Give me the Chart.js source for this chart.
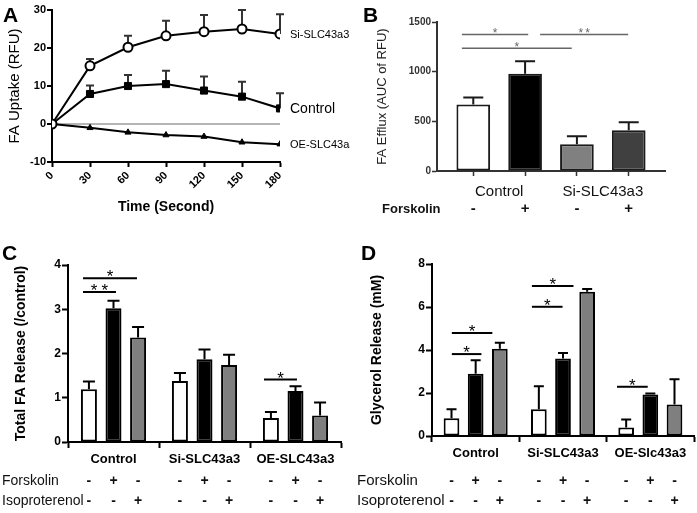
<!DOCTYPE html>
<html><head><meta charset="utf-8">
<script src="https://cdn.jsdelivr.net/npm/chart.js@4.4.1/dist/chart.umd.min.js"></script>
<style>
html,body{margin:0;padding:0;background:#fff}
body{position:relative;width:697px;height:513px;overflow:hidden}
canvas{position:absolute}
.lt{position:absolute;font:bold 21px/21px "Liberation Sans",Arial,sans-serif;color:#000}
</style></head><body>
<canvas id="cA" width="350" height="230" style="left:0px;top:0px"></canvas>
<canvas id="cB" width="347" height="230" style="left:350px;top:0px"></canvas>
<canvas id="cC" width="350" height="273" style="left:0px;top:240px"></canvas>
<canvas id="cD" width="347" height="273" style="left:350px;top:240px"></canvas>
<div class="lt" style="left:3px;top:4px">A</div>
<div class="lt" style="left:363px;top:4px">B</div>
<div class="lt" style="left:2px;top:242px">C</div>
<div class="lt" style="left:361px;top:242px">D</div>
<script>
// ---------- Panel A: FA uptake time course ----------
const timePoints = [0, 30, 60, 90, 120, 150, 180];
const siUptake = [0, 15.3, 20.2, 23.2, 24.3, 25.0, 23.7];
const siUptakeErr = [0, 1.8, 3.0, 4.0, 4.4, 5.0, 5.2];
const ctrlUptake = [0, 7.9, 10.0, 10.5, 8.8, 7.2, 4.1];
const ctrlUptakeErr = [0, 2.2, 2.9, 3.5, 3.7, 3.9, 4.0];
const oeUptake = [0, -1.0, -2.2, -2.9, -3.3, -4.8, -5.3];

// ---------- Panel B: FA efflux ----------
const effluxGroupOf = ['Control', 'Control', 'Si-SLC43a3', 'Si-SLC43a3'];
const effluxForskolin = ['-', '+', '-', '+'];
const effluxValues = [670, 980, 270, 410];
const effluxErr = [70, 125, 80, 80];
const effluxSig = [
  {x1: 0.78, x2: 2.06, y: 1375, text: '*'},
  {x1: 0.78, x2: 2.90, y: 1235, text: '*'},
  {x1: 2.29, x2: 3.99, y: 1375, text: '**'}
];

// ---------- Panels C & D: shared treatment design ----------
const forskolinSigns = ['-', '+', '-'];
const isoSigns = ['-', '-', '+'];

// Panel C: total FA release
const faGroups = ['Control', 'Si-SLC43a3', 'OE-SLC43a3'];
const faVehicle = [1.19, 1.38, 0.54];
const faVehicleErr = [0.18, 0.18, 0.14];
const faForskolin = [3.02, 1.87, 1.15];
const faForskolinErr = [0.17, 0.22, 0.11];
const faIso = [2.36, 1.74, 0.60];
const faIsoErr = [0.24, 0.23, 0.29];
const faSig = [
  {x1: -0.335, x2: 0.258, y: 3.70, text: '*'},
  {x1: -0.335, x2: 0.027, y: 3.39, text: '**'},
  {x1: 1.654, x2: 2.016, y: 1.41, text: '*'}
];

// Panel D: glycerol release
const glyGroups = ['Control', 'Si-SLC43a3', 'OE-Slc43a3'];
const glyVehicle = [0.82, 1.24, 0.40];
const glyVehicleErr = [0.42, 1.07, 0.37];
const glyForskolin = [2.90, 3.61, 1.93];
const glyForskolinErr = [0.62, 0.25, 0.05];
const glyIso = [4.06, 6.71, 1.47];
const glyIsoErr = [0.28, 0.13, 1.17];
const glySig = [
  {x1: -0.273, x2: 0.191, y: 4.79, text: '*'},
  {x1: -0.273, x2: 0.066, y: 3.81, text: '*'},
  {x1: 0.644, x2: 1.12, y: 6.98, text: '*'},
  {x1: 0.644, x2: 0.995, y: 6.01, text: '*'},
  {x1: 1.618, x2: 1.97, y: 2.29, text: '*'}
];

const FONT = '"Liberation Sans", Arial, sans-serif';
Chart.defaults.font.family = FONT;
Chart.defaults.color = '#000';

// ---------- plugins ----------
const errorBarPlugin = {
  id: 'errorBars',
  beforeDatasetsDraw(chart, args, o) {
    const ctx = chart.ctx, ys = chart.scales.y;
    chart.data.datasets.forEach((ds, di) => {
      if (!ds.errors) return;
      const meta = chart.getDatasetMeta(di);
      meta.data.forEach((el, i) => {
        const e = ds.errors[i];
        if (!e) return;
        const raw = ds.data[i];
        const v = (typeof raw === 'object') ? raw.y : raw;
        const top = ys.getPixelForValue(v + e);
        ctx.save();
        ctx.strokeStyle = o.color; ctx.lineWidth = o.width;
        ctx.beginPath();
        ctx.moveTo(el.x, el.y); ctx.lineTo(el.x, top);
        ctx.moveTo(el.x - o.cap / 2, top); ctx.lineTo(el.x + o.cap / 2, top);
        ctx.stroke();
        ctx.restore();
      });
    });
  }
};

const sigPlugin = {
  id: 'sig',
  afterDatasetsDraw(chart, args, o) {
    if (!o.items) return;
    const ctx = chart.ctx, xs = chart.scales.x, ys = chart.scales.y;
    o.items.forEach(s => {
      const x1 = xs.getPixelForValue(s.x1), x2 = xs.getPixelForValue(s.x2);
      const y = ys.getPixelForValue(s.y);
      ctx.save();
      ctx.strokeStyle = o.color; ctx.lineWidth = o.width;
      ctx.beginPath(); ctx.moveTo(x1, y); ctx.lineTo(x2, y); ctx.stroke();
      ctx.fillStyle = o.color;
      ctx.font = o.font;
      if (s.text.length > 1 && 'letterSpacing' in ctx) ctx.letterSpacing = o.spacing + 'px';
      ctx.textAlign = 'center'; ctx.textBaseline = 'alphabetic';
      ctx.fillText(s.text, (x1 + x2) / 2 + (s.text.length > 1 ? o.spacing / 2 : 0), y + o.dy);
      ctx.restore();
    });
  }
};

const endLabelPlugin = {
  id: 'endLabels',
  afterDatasetsDraw(chart) {
    const ctx = chart.ctx;
    chart.data.datasets.forEach((ds, di) => {
      const meta = chart.getDatasetMeta(di);
      const last = meta.data[meta.data.length - 1];
      ctx.save();
      ctx.fillStyle = '#000';
      ctx.font = ds.endLabelFont;
      ctx.textAlign = 'left'; ctx.textBaseline = 'middle';
      ctx.fillText(ds.label, last.x + 10, last.y + 1);
      ctx.restore();
    });
  }
};

function groupCenters(chart, groupOf) {
  const meta = chart.getDatasetMeta(0);
  const acc = {};
  groupOf.forEach((g, i) => {
    acc[g] = acc[g] || [];
    acc[g].push(meta.data[i].x);
  });
  return Object.keys(acc).map(g => ({label: g, x: acc[g].reduce((a, b) => a + b, 0) / acc[g].length}));
}

const effluxLabelPlugin = {
  id: 'effluxLabels',
  afterDraw(chart) {
    const ctx = chart.ctx, ca = chart.chartArea;
    ctx.save();
    ctx.fillStyle = '#111';
    ctx.textBaseline = 'middle';
    ctx.font = '15px ' + FONT; ctx.textAlign = 'center';
    groupCenters(chart, effluxGroupOf).forEach(g => ctx.fillText(g.label, g.x, ca.bottom + 21));
    ctx.font = 'bold 13px ' + FONT; ctx.textAlign = 'left';
    ctx.fillText('Forskolin', 32, ca.bottom + 38);
    ctx.font = 'bold 15px ' + FONT; ctx.textAlign = 'center';
    const meta = chart.getDatasetMeta(0);
    effluxForskolin.forEach((s, i) => ctx.fillText(s, meta.data[i].x, ca.bottom + 38));
    ctx.restore();
  }
};

const treatmentRowsPlugin = {
  id: 'treatRows',
  afterDraw(chart, args, o) {
    const ctx = chart.ctx;
    const rows = [['Forskolin', forskolinSigns, chart.height - 32], ['Isoproterenol', isoSigns, chart.height - 12]];
    ctx.save();
    ctx.fillStyle = '#111';
    ctx.textBaseline = 'middle';
    rows.forEach(([name, signs, y]) => {
      ctx.font = o.labelFont; ctx.textAlign = 'left';
      ctx.fillText(name, o.labelX, y);
      ctx.font = 'bold 14px ' + FONT; ctx.textAlign = 'center';
      signs.forEach((s, di) => {
        chart.getDatasetMeta(di).data.forEach(el => ctx.fillText(s, el.x, y));
      });
    });
    ctx.restore();
  }
};

const noInteract = {legend: {display: false}, tooltip: {enabled: false}};

// ---------- Chart A ----------
new Chart(document.getElementById('cA'), {
  type: 'line',
  data: {
    labels: timePoints,
    datasets: [
      {label: 'Si-SLC43a3', data: siUptake, errors: siUptakeErr, borderColor: '#000', borderWidth: 2,
       pointStyle: 'circle', pointRadius: 4.5, pointBackgroundColor: '#fff', pointBorderColor: '#000', pointBorderWidth: 2,
       endLabelFont: '11px ' + FONT},
      {label: 'Control', data: ctrlUptake, errors: ctrlUptakeErr, borderColor: '#000', borderWidth: 2,
       pointStyle: 'rect', pointRadius: 5, pointBackgroundColor: '#000', pointBorderColor: '#000', pointBorderWidth: 1,
       endLabelFont: '14px ' + FONT},
      {label: 'OE-SLC43a3', data: oeUptake, borderColor: '#000', borderWidth: 2,
       pointStyle: 'triangle', pointRadius: 3.5, pointBackgroundColor: '#000', pointBorderColor: '#000', pointBorderWidth: 1,
       endLabelFont: '11px ' + FONT}
    ]
  },
  options: {
    responsive: false, animation: false,
    layout: {padding: {top: 10, right: 70, bottom: 0, left: 0}},
    plugins: Object.assign({errorBars: {color: '#333', width: 2, cap: 8}}, noInteract),
    scales: {
      x: {type: 'linear', min: 0, max: 180,
          ticks: {stepSize: 30, minRotation: 45, maxRotation: 45, autoSkip: false, padding: 2, font: {size: 11, weight: 'bold'}},
          grid: {drawOnChartArea: false, tickLength: 5, tickColor: '#000', tickWidth: 2},
          border: {color: '#000', width: 2},
          title: {display: true, text: 'Time (Second)', font: {size: 14, weight: 'bold'}, padding: {top: 0, bottom: 14}},
          afterFit(s) { s.height = 68; }},
      y: {min: -10, max: 30,
          ticks: {stepSize: 10, padding: 1, font: {size: 11, weight: 'bold'}},
          grid: {color: c => (c.tick && c.tick.value === 0) ? '#b5b5b5' : 'rgba(0,0,0,0)', lineWidth: 2,
                 tickColor: '#000', tickLength: 5, tickWidth: 2},
          border: {color: '#000', width: 2},
          title: {display: true, text: 'FA Uptake (RFU)', font: {size: 15}, padding: {top: 6, bottom: 0}},
          afterFit(s) { s.width = 52; }}
    }
  },
  plugins: [errorBarPlugin, endLabelPlugin]
});

// ---------- Chart B ----------
new Chart(document.getElementById('cB'), {
  type: 'bar',
  data: {
    datasets: [{
      data: effluxValues.map((v, i) => ({x: i + 1, y: v})),
      errors: effluxErr,
      backgroundColor: ['#ffffff', '#000000', '#808080', '#404040'],
      borderColor: '#1a1a1a', borderWidth: 2, borderSkipped: false,
      barPercentage: 0.65, categoryPercentage: 1
    }]
  },
  options: {
    responsive: false, animation: false,
    layout: {padding: {top: 22, right: 32, bottom: 0, left: 0}},
    plugins: Object.assign({
      errorBars: {color: '#1a1a1a', width: 2, cap: 20},
      sig: {items: effluxSig, color: '#666', width: 1.5, font: '12px ' + FONT, dy: 3, spacing: 2}
    }, noInteract),
    scales: {
      x: {type: 'linear', min: 0.3, max: 4.7, offset: false,
          afterBuildTicks(s) { s.ticks = effluxValues.map((v, i) => ({value: i + 1})); },
          ticks: {callback: () => ''},
          grid: {drawOnChartArea: false, offset: false, tickLength: 5, tickColor: '#333', tickWidth: 1.5},
          border: {color: '#333', width: 2},
          afterFit(s) { s.height = 59; }},
      y: {min: 0, max: 1500,
          ticks: {stepSize: 500, padding: 1, color: '#333', font: {size: 10, weight: 'bold'}, callback: v => String(v)},
          grid: {drawOnChartArea: false, tickLength: 5, tickColor: '#333', tickWidth: 1.5},
          border: {color: '#333', width: 2},
          title: {display: true, text: 'FA Efflux (AUC of RFU)', color: '#222', font: {size: 13}, padding: {top: 25, bottom: 0}},
          afterFit(s) { s.width = 87; }}
    }
  },
  plugins: [errorBarPlugin, sigPlugin, effluxLabelPlugin]
});

// ---------- Charts C & D ----------
function releaseChart(id, groups, sets, yMax, yStep, yTitle, sig, geom) {
  const fills = ['#ffffff', '#000000', '#7f7f7f'];
  return new Chart(document.getElementById(id), {
    type: 'bar',
    data: {
      labels: groups,
      datasets: sets.map((s, i) => ({
        data: s[0], errors: s[1], backgroundColor: fills[i], borderColor: '#000', borderWidth: 2,
        borderSkipped: false, barPercentage: 0.65, categoryPercentage: geom.cat
      }))
    },
    options: {
      responsive: false, animation: false,
      layout: {padding: {top: geom.top, right: geom.right, bottom: 0, left: 0}},
      plugins: Object.assign({
        errorBars: {color: '#000', width: 2, cap: geom.cap},
        sig: {items: sig, color: '#000', width: 2, font: '17px ' + FONT, dy: 4, spacing: 4},
        treatRows: {labelX: geom.labelX, labelFont: geom.labelFont}
      }, noInteract),
      scales: {
        x: {ticks: {padding: 4, font: {size: 13, weight: 'bold'}},
            grid: {drawOnChartArea: false, tickLength: 6, tickColor: '#000', tickWidth: 2},
            border: {color: '#000', width: 2},
            afterFit(s) { s.height = geom.xh; }},
        y: {min: 0, max: yMax,
            ticks: {stepSize: yStep, padding: 1, font: {size: 12, weight: 'bold'}},
            grid: {drawOnChartArea: false, tickLength: 6, tickColor: '#000', tickWidth: 2},
            border: {color: '#000', width: 2},
            title: {display: true, text: yTitle, font: {size: 14, weight: 'bold'}, padding: {top: geom.titlePad, bottom: 0}},
            afterFit(s) { s.width = geom.left; }}
      }
    },
    plugins: [errorBarPlugin, sigPlugin, treatmentRowsPlugin]
  });
}

releaseChart('cC', faGroups,
  [[faVehicle, faVehicleErr], [faForskolin, faForskolinErr], [faIso, faIsoErr]],
  4, 1, 'Total FA Release (/control)', faSig,
  {top: 25, right: 9, left: 68, xh: 71, cat: 0.81, cap: 12, titlePad: 13, labelX: 2, labelFont: '14px ' + FONT});

releaseChart('cD', glyGroups,
  [[glyVehicle, glyVehicleErr], [glyForskolin, glyForskolinErr], [glyIso, glyIsoErr]],
  8, 2, 'Glycerol Release (mM)', glySig,
  {top: 24, right: 3, left: 82, xh: 77, cat: 0.83, cap: 10, titlePad: 19, labelX: 7, labelFont: '15px ' + FONT});
</script>
</body></html>
